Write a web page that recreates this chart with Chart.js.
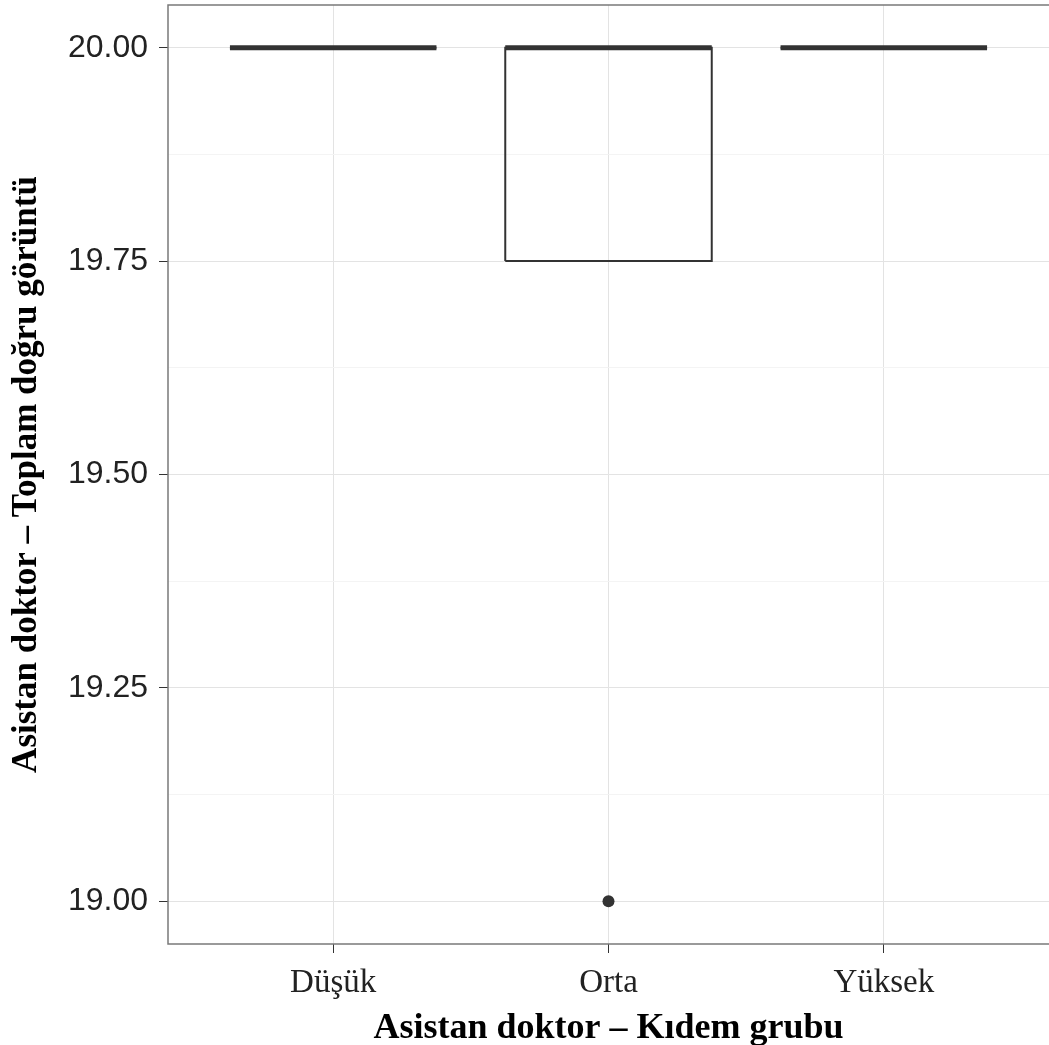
<!DOCTYPE html>
<html lang="tr">
<head>
  <meta charset="UTF-8">
  <title>Asistan doktor – Toplam doğru görüntü</title>
  <script src="https://cdn.jsdelivr.net/npm/chart.js"></script>
  <style>
    html, body { margin: 0; padding: 0; background: #fff; }
    #wrap { width: 1049px; height: 1045px; position: relative; overflow: hidden; }
  </style>
</head>
<body>
  <div id="wrap"><canvas id="boxChart"></canvas></div>

  <script>
    // veriler
    const categories = ['Düşük', 'Orta', 'Yüksek'];
    const q1 = [20, 19.75, 20];
    const median = [20, 20, 20];
    const q3 = [20, 20, 20];
    const whiskerLow = [20, 19.75, 20];
    const whiskerHigh = [20, 20, 20];
    const outliers = [[], [19], []];

    const yMajorTicks = [19, 19.25, 19.5, 19.75, 20];
    const yMinorTicks = [19.125, 19.375, 19.625, 19.875];
    const boxWidth = 0.75;

    const dark = '#333333';
    const datasets = [];

    categories.forEach((cat, i) => {
      const x = i + 1;
      const l = x - boxWidth / 2, r = x + boxWidth / 2;
      // whiskers
      datasets.push({
        data: [{x: x, y: whiskerLow[i]}, {x: x, y: q1[i]}],
        showLine: true, borderColor: dark, borderWidth: 2, pointRadius: 0
      });
      datasets.push({
        data: [{x: x, y: q3[i]}, {x: x, y: whiskerHigh[i]}],
        showLine: true, borderColor: dark, borderWidth: 2, pointRadius: 0
      });
      // box
      datasets.push({
        data: [
          {x: l, y: q1[i]}, {x: r, y: q1[i]}, {x: r, y: q3[i]},
          {x: l, y: q3[i]}, {x: l, y: q1[i]}
        ],
        showLine: true, borderColor: dark, borderWidth: 2, pointRadius: 0,
        borderJoinStyle: 'miter'
      });
      // median
      datasets.push({
        data: [{x: l, y: median[i]}, {x: r, y: median[i]}],
        showLine: true, borderColor: dark, borderWidth: 5, pointRadius: 0,
        borderCapStyle: 'butt'
      });
      // outliers
      datasets.push({
        data: outliers[i].map(v => ({x: x, y: v})),
        showLine: false, pointRadius: 6, pointBackgroundColor: dark,
        pointBorderColor: dark, pointBorderWidth: 0
      });
    });

    // panel çerçevesi (sağ kenar görüntüde kesik)
    const framePlugin = {
      id: 'frame',
      afterDraw(chart) {
        const a = chart.chartArea, c = chart.ctx;
        c.save();
        c.strokeStyle = '#7a7a7a';
        c.lineWidth = 1.5;
        c.beginPath();
        c.moveTo(a.right + 2, a.top);
        c.lineTo(a.left, a.top);
        c.lineTo(a.left, a.bottom);
        c.lineTo(a.right + 2, a.bottom);
        c.stroke();
        c.restore();
      }
    };

    const isMajor = v => yMajorTicks.includes(v);

    new Chart(document.getElementById('boxChart'), {
      type: 'scatter',
      data: { datasets: datasets },
      plugins: [framePlugin],
      options: {
        responsive: true,
        maintainAspectRatio: false,
        animation: false,
        layout: { autoPadding: false, padding: { top: 5, right: 0, left: 0, bottom: 0 } },
        plugins: { legend: { display: false }, tooltip: { enabled: false } },
        scales: {
          x: {
            type: 'linear',
            min: 0.4,
            max: 3.6,
            afterBuildTicks: axis => { axis.ticks = categories.map((c, i) => ({value: i + 1})); },
            afterFit: axis => { axis.height = 101; axis.paddingLeft = 0; axis.paddingRight = 0; },
            border: { display: false },
            grid: { color: '#e3e3e3', lineWidth: 1, drawTicks: true, tickLength: 9, tickColor: dark },
            ticks: {
              callback: v => categories[v - 1],
              color: '#222',
              padding: 11,
              maxRotation: 0,
              font: { family: '"Liberation Serif", "Times New Roman", serif', size: 33 }
            },
            title: {
              display: true,
              text: 'Asistan doktor – Kıdem grubu',
              color: '#000',
              padding: { top: 0, bottom: 0 },
              font: { family: '"Liberation Serif", "Times New Roman", serif', size: 36, weight: 'bold', lineHeight: 0.9 }
            }
          },
          y: {
            min: 18.95,
            max: 20.05,
            afterBuildTicks: axis => {
              axis.ticks = yMajorTicks.concat(yMinorTicks).sort((a, b) => a - b).map(v => ({value: v}));
            },
            afterFit: axis => { axis.width = 168; axis.paddingTop = 0; axis.paddingBottom = 0; },
            border: { display: false },
            grid: {
              color: ctx => isMajor(ctx.tick.value) ? '#e3e3e3' : '#f4f4f4',
              lineWidth: 1,
              drawTicks: true,
              tickLength: 9,
              tickColor: ctx => isMajor(ctx.tick.value) ? dark : 'rgba(0,0,0,0)'
            },
            ticks: {
              callback: v => isMajor(v) ? v.toFixed(2) : '',
              color: '#222',
              padding: 11,
              font: { family: '"Liberation Sans", Arial, sans-serif', size: 32 }
            },
            title: {
              display: true,
              text: 'Asistan doktor – Toplam doğru görüntü',
              color: '#000',
              padding: { top: 6, bottom: 0 },
              font: { family: '"Liberation Serif", "Times New Roman", serif', size: 35, weight: 'bold' }
            }
          }
        }
      }
    });
  </script>
</body>
</html>
